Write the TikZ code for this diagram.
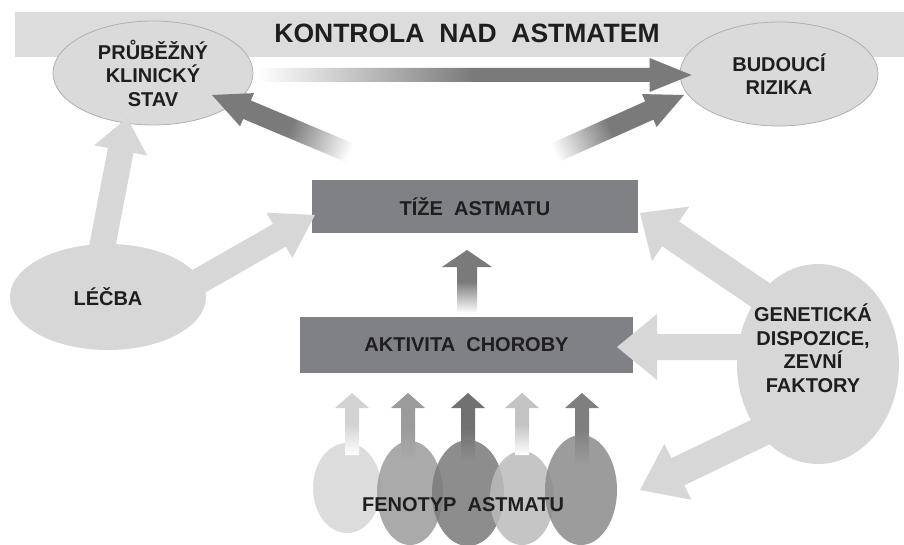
\documentclass[tikz,border=0pt]{standalone}
\usepackage{fontspec}
\setmainfont{Liberation Sans}
\usetikzlibrary{shapes.geometric,calc}
\definecolor{banner}{HTML}{DCDCDC}
\definecolor{ellfill}{HTML}{DADADA}
\definecolor{ellline}{HTML}{B0B0B0}
\definecolor{boxfill}{HTML}{808184}
\definecolor{darkarr}{HTML}{7A7A7A}
\definecolor{lightarr}{HTML}{D7D7D7}
\definecolor{txt}{HTML}{1E1E1E}
\definecolor{feA}{HTML}{D6D6D6}
\definecolor{feB}{HTML}{9C9C9C}
\definecolor{feC}{HTML}{7A7A7A}
\definecolor{feD}{HTML}{BCBCBC}
\definecolor{feE}{HTML}{8B8B8B}
\definecolor{apB}{HTML}{ABABAB}
\definecolor{apC}{HTML}{8E8E8E}
\definecolor{apE}{HTML}{9C9C9C}
\definecolor{arA}{HTML}{D2D2D2}
\definecolor{arB}{HTML}{9B9B9B}
\definecolor{arC}{HTML}{717171}
\definecolor{arD}{HTML}{C3C3C3}
\definecolor{arE}{HTML}{7F7F7F}
% block arrow: [style]{from}{to}{shaft half width}{head half width}{head length}
\newcommand\BlockArr[6][]{%
  \coordinate (ba-c) at ($(#3)!#6!(#2)$);
  \path[#1] ($(#2)!#4!90:(#3)$) -- ($(ba-c)!#4!90:(#3)$) -- ($(ba-c)!#5!90:(#3)$) -- (#3)
    -- ($(ba-c)!#5!-90:(#3)$) -- ($(ba-c)!#4!-90:(#3)$) -- ($(#2)!#4!-90:(#3)$) -- cycle;}
\begin{document}
\begin{tikzpicture}[x=1pt,y=1pt,
  lbl/.style={text=txt, font=\fontsize{20}{23.5}\selectfont\bfseries, align=center, inner sep=0pt},
  topell/.style={ellipse, fill=ellfill, draw=ellline, line width=0.8pt, inner sep=0pt, lbl},
  lightell/.style={ellipse, fill=lightarr, inner sep=0pt, lbl},
  boxst/.style={rectangle, fill=boxfill, inner sep=0pt, lbl},
  feell/.style={ellipse, fill opacity=0.85, inner sep=0pt}]
\useasboundingbox (0,0) rectangle (904,-545);
\fill[white] (0,0) rectangle (904,-545);
% banner
\fill[banner] (15,-12) rectangle (904,-57);
\node[lbl, font=\fontsize{26.5}{30}\selectfont\bfseries] (K) at (467,-33) {KONTROLA\ \ NAD\ \ ASTMATEM};
% top ellipses
\node[topell, minimum width=200pt, minimum height=104pt] (P) at (153,-73) {PRŮBĚŽNÝ\\KLINICKÝ\\STAV};
\node[topell, minimum width=198pt, minimum height=104pt] (B) at (779,-74) {BUDOUCÍ\\RIZIKA};
% boxes
\node[boxst, minimum width=326pt, minimum height=53pt] (T) at (475,-206.5) {TÍŽE\ \ ASTMATU};
\node[boxst, minimum width=333pt, minimum height=56pt] (A) at (466.5,-345) {AKTIVITA\ \ CHOROBY};
% light arrows
\coordinate (lp0) at (100,-258); \coordinate (lp1) at (127,-118);
\coordinate (lt0) at (180,-292); \coordinate (lt1) at (315,-215);
\coordinate (gt0) at (775,-305); \coordinate (gt1) at (640,-213);
\coordinate (ga0) at (755,-347); \coordinate (ga1) at (617,-347);
\coordinate (gf0) at (775,-425); \coordinate (gf1) at (640,-490);
\BlockArr[fill=lightarr]{lp0}{lp1}{13pt}{27pt}{33pt}
\BlockArr[fill=lightarr]{lt0}{lt1}{13pt}{26pt}{41pt}
\BlockArr[fill=lightarr]{gt0}{gt1}{15pt}{33pt}{37pt}
\BlockArr[fill=lightarr]{ga0}{ga1}{13pt}{33pt}{40pt}
\BlockArr[fill=lightarr]{gf0}{gf1}{15pt}{31pt}{42pt}
% light ellipses
\node[lightell, minimum width=196pt, minimum height=106pt] (L) at (108,-297) {LÉČBA};
\node[lightell, minimum width=162pt, minimum height=200pt] (G) at (818,-364) {};
\node[lbl] (Gt) at (813,-348) {GENETICKÁ\\DISPOZICE,\\ZEVNÍ\\FAKTORY};
% dark faded arrows
\coordinate (h0) at (257,-75); \coordinate (h1) at ($(B.west)+(12,-1)$);
\coordinate (dl0) at (362,-158); \coordinate (dl1) at (212,-95);
\coordinate (dr0) at (543,-158); \coordinate (dr1) at (684,-95);
\coordinate (m0) at (467,-313); \coordinate (m1) at (467,-250);
\BlockArr[top color=darkarr, bottom color=white, middle color=darkarr, shading angle=-90]{h0}{h1}{7pt}{17pt}{42pt}
\BlockArr[top color=darkarr, bottom color=white, middle color=darkarr, shading angle=67.2]{dl0}{dl1}{10pt}{18pt}{38pt}
\BlockArr[top color=darkarr, bottom color=white, middle color=darkarr, shading angle=-65.9]{dr0}{dr1}{10pt}{18pt}{38pt}
\BlockArr[top color=darkarr, bottom color=white, middle color=darkarr, shading angle=0]{m0}{m1}{10pt}{25pt}{17pt}
% phenotype ellipses
\node[feell, fill=feA, minimum width=68pt, minimum height=90pt] (F1) at (347,-488) {};
\node[feell, fill=feB, minimum width=66pt, minimum height=104pt] (F2) at (410,-493) {};
\node[feell, fill=feC, minimum width=72pt, minimum height=106pt] (F3) at (468,-493) {};
\node[feell, fill=feD, minimum width=64pt, minimum height=94pt] (F4) at (522,-498) {};
\node[feell, fill=feE, minimum width=72pt, minimum height=110pt] (F5) at (581,-490) {};
% phenotype arrows
\coordinate (f10) at (352,-455); \coordinate (f11) at (352,-393);
\coordinate (f20) at (408,-462); \coordinate (f21) at (408,-393);
\coordinate (f30) at (468,-462); \coordinate (f31) at (468,-393);
\coordinate (f40) at (522,-455); \coordinate (f41) at (522,-393);
\coordinate (f50) at (582,-465); \coordinate (f51) at (582,-393);
\BlockArr[top color=arA, bottom color=white, middle color=arA]{f10}{f11}{7pt}{17pt}{15pt}
\BlockArr[top color=arB, bottom color=apB, middle color=arB]{f20}{f21}{7pt}{17pt}{15pt}
\BlockArr[top color=arC, bottom color=apC, middle color=arC]{f30}{f31}{7pt}{17pt}{15pt}
\BlockArr[top color=arD, bottom color=white, middle color=arD]{f40}{f41}{7pt}{17pt}{15pt}
\BlockArr[top color=arE, bottom color=apE, middle color=arE]{f50}{f51}{7pt}{17pt}{15pt}
\node[lbl] (Ft) at (463,-505) {FENOTYP\ \ ASTMATU};
\end{tikzpicture}
\end{document}
